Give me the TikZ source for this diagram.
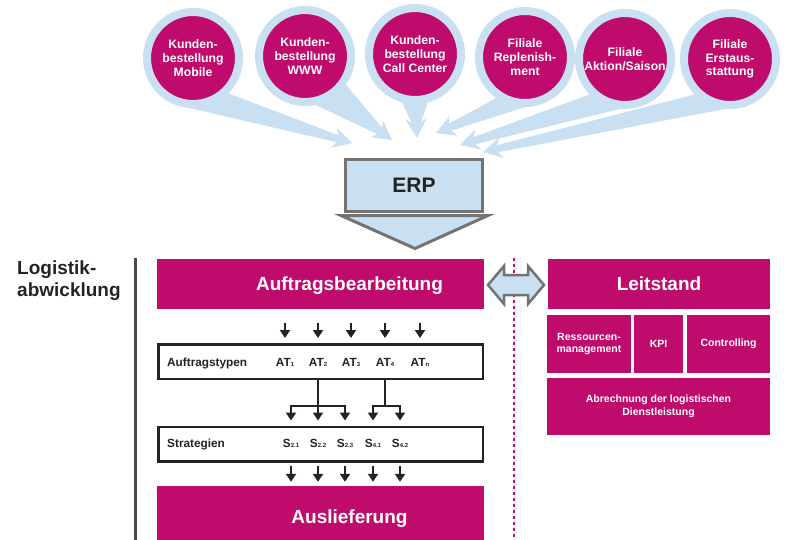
\documentclass[tikz,border=0pt]{standalone}
\usepackage{fontspec}
\setmainfont{Liberation Sans}
\usetikzlibrary{arrows.meta,positioning,calc,backgrounds}
\definecolor{lgmagenta}{RGB}{190,11,108}
\definecolor{lgblue}{RGB}{200,224,242}
\definecolor{lggray}{RGB}{115,115,115}
\definecolor{lgdark}{RGB}{35,35,35}
\definecolor{lgslate}{RGB}{70,75,82}
\newcommand{\lgsub}[1]{{\fontsize{6}{6}\selectfont #1}}

\begin{document}
\begin{tikzpicture}[x=1pt, y=-1pt,
    src/.style={circle, fill=lgmagenta, draw=lgblue, line width=8pt,
                minimum size=92pt, inner sep=0pt, align=center, text=white,
                font=\fontsize{12.2}{13.7}\selectfont\bfseries},
    feed/.style={lgblue, line width=1pt, -{Stealth[length=19pt, width=21pt, inset=6pt]}},
    erpfill/.style={fill=lgblue, draw=lggray, line width=3pt},
    mbox/.style={rectangle, fill=lgmagenta, text=white, inner sep=0pt, align=center},
    bigtxt/.style={font=\fontsize{19}{22}\selectfont\bfseries, text height=13.6pt, text depth=0pt},
    smalltxt/.style={font=\fontsize{10.5}{12.5}\selectfont\bfseries},
    tbox/.style={rectangle, draw=lgdark, line width=2.5pt, fill=white,
                 minimum width=324.5pt, minimum height=34.5pt, inner sep=0pt},
    tag/.style={inner sep=0pt, anchor=base, font=\fontsize{11.8}{13}\selectfont\bfseries, text=lgdark},
    arr/.style={-{Triangle[length=8pt, width=10pt]}, line width=2pt, lgdark},
    lnk/.style={line width=2pt, lgdark},
    dblarr/.style={fill=lgblue, draw=lggray, line width=2.5pt, line join=miter}
  ]
  \useasboundingbox (0,0) rectangle (789,539);

  % Auftragsquellen
  \node[src] (c1) at (193,58) {Kunden-\\bestellung\\Mobile};
  \node[src] (c2) at (305,56) {Kunden-\\bestellung\\WWW};
  \node[src] (c3) at (415,54) {Kunden-\\bestellung\\Call Center};
  \node[src] (c4) at (525,57) {Filiale\\Replenish-\\ment};
  \node[src] (c5) at (625,59) {Filiale\\Aktion/Saison};
  \node[src] (c6) at (730,59) {Filiale\\Erstaus-\\stattung};

  \coordinate (t1) at (352,143);
  \coordinate (t2) at (392,140);
  \coordinate (t3) at (417,138);
  \coordinate (t4) at (436,133);
  \coordinate (t5) at (460,145);
  \coordinate (t6) at (483,152);

  \begin{scope}[on background layer]
    \foreach \c/\a/\b/\t in {c1/-95/-45/t1, c2/-78/-35/t2, c3/-105/-75/t3,
                             c4/-125/-90/t4, c5/-135/-95/t5, c6/-135/-95/t6}{
      \coordinate (m) at ($(\c.\a)!0.5!(\c.\b)$);
      \coordinate (hb) at ($(\t)!13pt!(m)$);
      \fill[lgblue] (\c.\a) -- ($(hb)!3.5pt!90:(m)$) -- ($(hb)!3.5pt!-90:(m)$) -- (\c.\b) -- cycle;
      \draw[feed] (m) -- (\t);
    }
  \end{scope}

  % ERP
  \node[rectangle, erpfill, minimum width=137pt, minimum height=52pt, text=lgdark,
        font=\fontsize{21}{24}\selectfont\bfseries] (erp) at (414,185) {ERP};
  \draw[erpfill, line join=miter] ($(erp.south west)+(-3,3)$) -- ($(erp.south east)+(4,3)$)
    -- ($(erp.south)+(1,36)$) -- cycle;

  % Logistikabwicklung
  \node[anchor=north west, align=left, inner sep=0pt, text=lgdark,
        font=\fontsize{19}{22}\selectfont\bfseries] (logi) at (17,261) {Logistik-\\abwicklung};
  \draw[lgslate, line width=3pt] (135,258) -- (135,545);
  \draw[lgmagenta, line width=2pt, dash pattern=on 3pt off 3pt] (514,258) -- (514,545);

  \node[mbox, bigtxt, minimum width=327pt, minimum height=50pt] (auf) at (320.5,283.5) {\hspace*{58pt}Auftragsbearbeitung};
  \node[mbox, bigtxt, minimum width=222pt, minimum height=50pt] (leit) at (659,283.5) {Leitstand};

  % Doppelpfeil
  \coordinate (link) at ($(auf.east)!0.5!(leit.west)+(0,1.5)$);
  \draw[dblarr, shift={(link)}] (-28,0) -- (-12,-19) -- (-12,-10) -- (12,-10) -- (12,-19)
    -- (28,0) -- (12,19) -- (12,10) -- (-12,10) -- (-12,19) -- cycle;

  % Leitstand
  \node[mbox, smalltxt, minimum width=84pt, minimum height=58pt] (res) at (589,344) {Ressourcen-\\management};
  \node[mbox, smalltxt, minimum width=49pt, minimum height=58pt] (kpi) at (658.5,344) {KPI};
  \node[mbox, smalltxt, minimum width=83pt, minimum height=58pt] (ctl) at (728.5,344) {Controlling};
  \node[mbox, smalltxt, minimum width=223pt, minimum height=57pt] (abr) at (658.5,406.5) {Abrechnung der logistischen\\Dienstleistung};

  % Auftragstypen
  \node[tbox] (typ) at (320.5,361.5) {};
  \node[tag, anchor=base west] (typl) at (167,366) {Auftragstypen};
  \foreach \x/\nm/\i in {285/at1/1, 318/at2/2, 351/at3/3, 385/at4/4, 420/at5/n}{
    \node[tag] (\nm) at (\x,366) {AT\lgsub{\i}};
    \draw[arr] ($(\nm |- auf.south)+(0,14)$) -- ($(\nm |- typ.north)+(0,-5)$);
  }

  % Strategien
  \node[tbox] (str) at (320.5,444) {};
  \node[tag, anchor=base west] (strl) at (167,447.5) {Strategien};
  \foreach \x/\nm/\i in {291/s21/2.1, 318/s22/2.2, 345/s23/2.3, 373/s41/4.1, 400/s42/4.2}{
    \node[tag] (\nm) at (\x,447.5) {S\lgsub{\i}};
  }
  \coordinate (b1) at ($(at2 |- typ.south)+(0,26)$);
  \coordinate (b2) at ($(at4 |- typ.south)+(0,26)$);
  \draw[lnk] (at2 |- typ.south) -- (b1);
  \draw[lnk] (at4 |- typ.south) -- (b2);
  \draw[lnk, line cap=rect] (s21 |- b1) -- (s23 |- b1);
  \draw[lnk, line cap=rect] (s41 |- b2) -- (s42 |- b2);
  \foreach \nm/\b in {s21/b1, s22/b1, s23/b1, s41/b2, s42/b2}{
    \draw[arr] (\nm |- \b) -- ($(\nm |- str.north)+(0,-5)$);
  }

  % Auslieferung
  \node[mbox, bigtxt, minimum width=327pt, minimum height=62pt] (aus) at (320.5,517) {\hspace*{58pt}Auslieferung};
  \foreach \nm in {s21, s22, s23, s41, s42}{
    \draw[arr] ($(\nm |- str.south)+(0,3)$) -- ($(\nm |- aus.north)+(0,-4)$);
  }
\end{tikzpicture}
\end{document}
